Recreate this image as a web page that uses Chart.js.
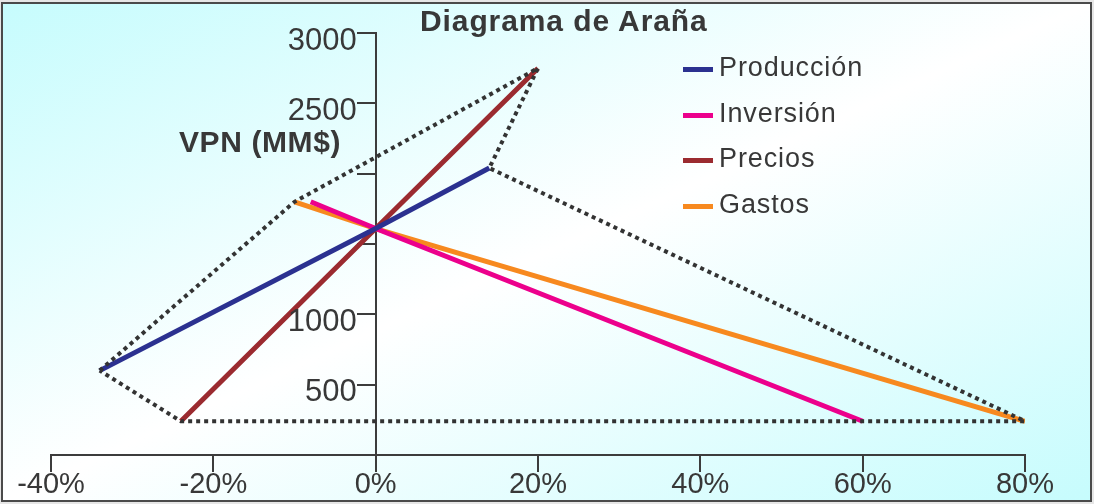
<!DOCTYPE html>
<html>
<head>
<meta charset="utf-8">
<script src="https://cdn.jsdelivr.net/npm/chart.js@4"></script>
<style>
  html, body { margin: 0; padding: 0; background: #e6e6e6; }
  #wrap { position: relative; width: 1094px; height: 504px; overflow: hidden; }
  #bg { position: absolute; left: 1px; top: 2px; width: 1091px; height: 500px;
        background: linear-gradient(to bottom right, #c6fcfd 0%, #ffffff 50%, #c6fcfd 100%); }
  #frame { position: absolute; left: 1px; top: 2px; width: 1091px; height: 500px;
           box-sizing: border-box; border: 2px solid #4a4a4a; pointer-events: none; }
  canvas { position: absolute; left: 0; top: 0; }
  .txt { position: absolute; font-family: "Liberation Sans", Arial, sans-serif; color: #383838;
         white-space: nowrap; line-height: 1; }
  #title { left: 420px; top: 6px; font-size: 30px; font-weight: bold; letter-spacing: 0.9px; }
  #ytitle { left: 179px; top: 127px; font-size: 30px; font-weight: bold; letter-spacing: 0.6px; }
  #legend { position: absolute; left: 683px; top: 52px; }
  .item { position: relative; height: 45.5px; }
  .sw { position: absolute; left: 0; top: 15px; width: 30px; height: 5px; }
  .item .txt { left: 36px; top: 2px; font-size: 27px; letter-spacing: 0.9px; }
</style>
</head>
<body>
<div id="wrap">
  <div id="bg"></div>
  <canvas id="spider" width="1094" height="504"></canvas>
  <div class="txt" id="title">Diagrama de Araña</div>
  <div class="txt" id="ytitle">VPN (MM$)</div>
  <div id="legend"></div>
  <div id="frame"></div>
</div>
<script>
// variación (%) y VPN (MM$) de cada variable
const seriesNames = ['Producción', 'Inversión', 'Precios', 'Gastos'];
const produccionX = [-34, 0, 14];
const produccionY = [600, 1610, 2040];
const inversionX = [-8, 0, 60];
const inversionY = [1800, 1610, 240];
const preciosX = [-24, 0, 20];
const preciosY = [240, 1610, 2750];
const gastosX = [-10, 0, 80];
const gastosY = [1800, 1610, 240];
// contorno punteado de la araña
const contornoX = [-34, -10, 20, 14, 80, -24, -34];
const contornoY = [600, 1800, 2750, 2040, 240, 240, 600];

const xTicks = [-40, -20, 0, 20, 40, 60, 80];
const yTickLabels = { 500: '500', 1000: '1000', 2500: '2500', 3000: '3000' };

const colors = ['#2b3190', '#ec008c', '#9b2b30', '#f7891f'];

const pts = (xs, ys) => xs.map((x, i) => ({ x: x, y: ys[i] }));
const seriesData = [
  pts(produccionX, produccionY),
  pts(inversionX, inversionY),
  pts(preciosX, preciosY),
  pts(gastosX, gastosY)
];

const datasets = [{
  label: 'contorno',
  data: pts(contornoX, contornoY),
  borderColor: '#333333',
  borderWidth: 4,
  borderDash: [4, 4],
  borderCapStyle: 'butt',
  pointRadius: 0,
  fill: false
}];
seriesNames.forEach((name, i) => {
  datasets.push({
    label: name,
    data: seriesData[i],
    borderColor: colors[i],
    backgroundColor: colors[i],
    borderWidth: 5,
    pointRadius: 0,
    fill: false
  });
});

const axisColor = '#3c3c3c';
const fontFamily = '"Liberation Sans", Arial, sans-serif';

// etiquetas del eje Y a la izquierda de las marcas (el eje cruza en x = 0)
const yLabelsPlugin = {
  id: 'yLabels',
  afterDraw(chart) {
    const xs = chart.scales.x, ys = chart.scales.y, ctx = chart.ctx;
    const x0 = xs.getPixelForValue(0) - 19;
    ctx.save();
    ctx.font = '31px ' + fontFamily;
    ctx.fillStyle = '#383838';
    ctx.textAlign = 'right';
    ctx.textBaseline = 'middle';
    ys.ticks.forEach(t => {
      const lbl = yTickLabels[t.value];
      if (lbl) ctx.fillText(lbl, x0, ys.getPixelForValue(t.value) + 8);
    });
    ctx.restore();
  }
};

new Chart(document.getElementById('spider').getContext('2d'), {
  type: 'line',
  data: { datasets: datasets },
  plugins: [yLabelsPlugin],
  options: {
    responsive: false,
    animation: false,
    layout: { padding: { left: 51, right: 69, top: 33, bottom: 0 } },
    plugins: { legend: { display: false }, title: { display: false }, tooltip: { enabled: false } },
    elements: { line: { tension: 0 } },
    scales: {
      x: {
        type: 'linear',
        position: 'bottom',
        min: -40,
        max: 80,
        afterFit: (s) => { s.height = 49; },
        afterBuildTicks: (s) => { s.ticks = xTicks.map(v => ({ value: v })); },
        ticks: {
          color: '#383838',
          font: { size: 29, family: fontFamily },
          padding: -4,
          maxRotation: 0,
          callback: (v) => v + '%'
        },
        grid: { drawOnChartArea: false, drawTicks: true, tickLength: 17, color: axisColor, lineWidth: 2 },
        border: { color: axisColor, width: 2 }
      },
      y: {
        type: 'linear',
        position: { x: 0 },
        min: 0,
        max: 3000,
        ticks: {
          stepSize: 500,
          font: { size: 12, family: fontFamily },
          color: 'rgba(0,0,0,0)',
          callback: () => ''
        },
        grid: { drawOnChartArea: false, drawTicks: true, tickLength: 18, color: axisColor, lineWidth: 2 },
        border: { color: axisColor, width: 2 }
      }
    }
  }
});

// leyenda
const legend = document.getElementById('legend');
seriesNames.forEach((name, i) => {
  const item = document.createElement('div');
  item.className = 'item';
  item.innerHTML = '<div class="sw" style="background:' + colors[i] + '"></div><div class="txt">' + name + '</div>';
  legend.appendChild(item);
});
</script>
</body>
</html>
